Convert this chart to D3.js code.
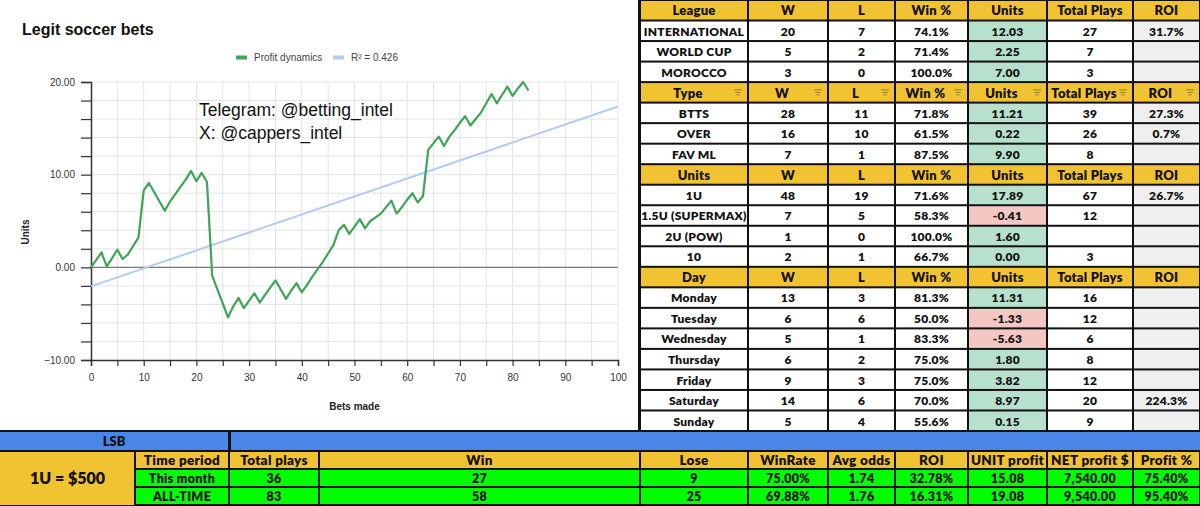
<!DOCTYPE html>
<html>
<head>
<meta charset="utf-8">
<script src="https://cdn.jsdelivr.net/npm/d3@7"></script>
<style>
  body { margin: 0; background: #fff; }
  svg { display: block; }
</style>
</head>
<body>
<div id="board"></div>
<script>
// cumulative profit after each bet (bet 0 .. 83)
const profit = [
  0, 0.8, 1.6, 0.1, 1.0, 1.9, 0.9, 1.4, 2.3, 3.2,
  8.3, 9.1, 8.1, 7.1, 6.1, 7.1, 7.9, 8.7, 9.5, 10.4,
  9.3, 10.2, 9.2, -0.9, -2.4, -3.9, -5.4, -4.2, -3.3, -4.4,
  -3.6, -2.8, -3.8, -3.0, -2.2, -1.4, -2.4, -3.4, -2.5, -1.7,
  -2.7, -1.9, -1.0, -0.2, 0.6, 1.5, 2.4, 4.0, 4.6, 3.6,
  4.4, 5.2, 4.2, 5.0, 5.4, 5.8, 6.5, 7.2, 5.8, 6.5,
  7.3, 8.0, 7.0, 7.7, 12.7, 13.4, 14.1, 13.1, 14.1, 14.8,
  15.6, 16.3, 15.3, 16.0, 16.7, 17.7, 18.7, 17.7, 18.6, 19.5,
  18.5, 19.3, 20.0, 19.08
];
// regression line end points (bets 0 and 100)
const trend = [[0, -2.06], [100, 17.36]];
const legendItems = ["Profit dynamics", "R\u00b2 = 0.426"];

const tableCols = ["W", "L", "Win %", "Units", "Total Plays", "ROI"];
const leagueRows = [
  ["INTERNATIONAL", 20, 7, "74.1%", 12.03, 27, "31.7%"],
  ["WORLD CUP", 5, 2, "71.4%", 2.25, 7, ""],
  ["MOROCCO", 3, 0, "100.0%", 7.00, 3, ""]
];
const typeRows = [
  ["BTTS", 28, 11, "71.8%", 11.21, 39, "27.3%"],
  ["OVER", 16, 10, "61.5%", 0.22, 26, "0.7%"],
  ["FAV ML", 7, 1, "87.5%", 9.90, 8, ""]
];
const unitRows = [
  ["1U", 48, 19, "71.6%", 17.89, 67, "26.7%"],
  ["1.5U (SUPERMAX)", 7, 5, "58.3%", -0.41, 12, ""],
  ["2U (POW)", 1, 0, "100.0%", 1.60, "", ""],
  ["10", 2, 1, "66.7%", 0.00, 3, ""]
];
const dayRows = [
  ["Monday", 13, 3, "81.3%", 11.31, 16, ""],
  ["Tuesday", 6, 6, "50.0%", -1.33, 12, ""],
  ["Wednesday", 5, 1, "83.3%", -5.63, 6, ""],
  ["Thursday", 6, 2, "75.0%", 1.80, 8, ""],
  ["Friday", 9, 3, "75.0%", 3.82, 12, ""],
  ["Saturday", 14, 6, "70.0%", 8.97, 20, "224.3%"],
  ["Sunday", 5, 4, "55.6%", 0.15, 9, ""]
];

const summaryCols = ["Time period", "Total plays", "Win", "Lose", "WinRate", "Avg odds", "ROI", "UNIT profit", "NET profit $", "Profit %"];
const summaryRows = [
  ["This month", 36, 27, 9, "75.00%", "1.74", "32.78%", "15.08", "7,540.00", "75.40%"],
  ["ALL-TIME", 83, 58, 25, "69.88%", "1.76", "16.31%", "19.08", "9,540.00", "95.40%"]
];

const W = 1200, H = 506;
const svg = d3.select("#board").append("svg").attr("width", W).attr("height", H);
const chartFont = "'Liberation Sans', Arial, sans-serif";
const tableFont = "Lato, 'Open Sans', sans-serif";

// ---------- chart ----------
const x = d3.scaleLinear().domain([0, 100]).range([91, 618]);
const y = d3.scaleLinear().domain([-10, 20]).range([360, 82]);

svg.append("text")
  .attr("x", 22).attr("y", 35)
  .attr("font-family", chartFont).attr("font-weight", "bold").attr("font-size", 16)
  .attr("fill", "#111")
  .text("Legit soccer bets");

const grid = svg.append("g").attr("stroke", "#e4e4e4").attr("stroke-width", 1);
grid.selectAll(".gx").data(d3.range(5, 101, 5)).join("line")
  .attr("x1", d => x(d)).attr("x2", d => x(d))
  .attr("y1", y(20)).attr("y2", y(-10));
grid.selectAll(".gy").data(d3.range(-8, 21, 2)).join("line")
  .attr("x1", x(0)).attr("x2", x(100))
  .attr("y1", d => y(d)).attr("y2", d => y(d));

svg.append("line")
  .attr("x1", x(0)).attr("x2", x(100))
  .attr("y1", y(0)).attr("y2", y(0))
  .attr("stroke", "#7a7a7a").attr("stroke-width", 1.4);

const yAxis = d3.axisLeft(y)
  .tickValues(d3.range(-10, 21, 2))
  .tickSize(10).tickPadding(6)
  .tickFormat(d => d % 10 === 0 ? d3.format(".2f")(d) : "");
svg.append("g").attr("transform", `translate(${x(0)},0)`).call(yAxis)
  .call(g => g.select(".domain").attr("stroke", "#333").attr("stroke-width", 1.5))
  .call(g => g.selectAll(".tick line").attr("stroke", "#333").attr("stroke-width", 1.2))
  .call(g => g.selectAll("text").attr("font-family", chartFont).attr("font-size", 10).attr("fill", "#333"));

const xAxis = d3.axisBottom(x)
  .tickValues(d3.range(0, 101, 5))
  .tickSize(6).tickPadding(8)
  .tickFormat(d => d % 10 === 0 ? d : "");
svg.append("g").attr("transform", `translate(0,${y(-10)})`).call(xAxis)
  .call(g => g.select(".domain").attr("stroke", "#333").attr("stroke-width", 1.5))
  .call(g => g.selectAll(".tick line").attr("stroke", "#333").attr("stroke-width", 1.2))
  .call(g => g.selectAll("text").attr("font-family", chartFont).attr("font-size", 10).attr("fill", "#333"));

svg.append("text")
  .attr("transform", "translate(29,232) rotate(-90)")
  .attr("text-anchor", "middle")
  .attr("font-family", chartFont).attr("font-weight", "bold").attr("font-size", 10)
  .attr("fill", "#222").text("Units");
svg.append("text")
  .attr("x", x(50)).attr("y", 410)
  .attr("text-anchor", "middle")
  .attr("font-family", chartFont).attr("font-weight", "bold").attr("font-size", 10)
  .attr("fill", "#222").text("Bets made");

// trend line
svg.append("path")
  .datum(trend)
  .attr("d", d3.line().x(d => x(d[0])).y(d => y(d[1])))
  .attr("fill", "none").attr("stroke", "#b3cbf2").attr("stroke-width", 2);

// profit line
svg.append("path")
  .datum(profit)
  .attr("d", d3.line().x((d, i) => x(i)).y(d => y(d)))
  .attr("fill", "none").attr("stroke", "#3ea558").attr("stroke-width", 2.2)
  .attr("stroke-linejoin", "round");

// legend
const legendColors = ["#3ea558", "#b3cbf2"];
const legendX = [236, 333];
legendItems.forEach((t, i) => {
  svg.append("rect").attr("x", legendX[i]).attr("y", 55.5).attr("width", 11).attr("height", 4)
    .attr("fill", legendColors[i]);
  svg.append("text").attr("x", legendX[i] + 18).attr("y", 61)
    .attr("font-family", chartFont).attr("font-size", 10).attr("fill", "#444").text(t);
});

svg.append("text").attr("x", 199).attr("y", 116)
  .attr("font-family", chartFont).attr("font-size", 17.5).attr("fill", "#111")
  .text("Telegram: @betting_intel");
svg.append("text").attr("x", 199).attr("y", 139)
  .attr("font-family", chartFont).attr("font-size", 17.5).attr("fill", "#111")
  .text("X: @cappers_intel");

// ---------- right table ----------
const colEdges = [640, 748, 828, 895, 968, 1047, 1133, 1200];
const sections = [
  { title: "League", rows: leagueRows, filter: false },
  { title: "Type", rows: typeRows, filter: true },
  { title: "Units", rows: unitRows, filter: false },
  { title: "Day", rows: dayRows, filter: false }
];
const lines = [];
sections.forEach(s => {
  lines.push({ header: true, cells: [s.title, ...tableCols], filter: s.filter });
  s.rows.forEach(r => lines.push({ header: false, cells: r }));
});

const rowY = d3.scaleLinear().domain([0, lines.length]).range([0, 431]);
const rowH = rowY(1) - rowY(0);

const gold = "#f1c232";
const tbl = svg.append("g");
tbl.append("rect").attr("x", 638).attr("y", 0).attr("width", W - 638).attr("height", 432).attr("fill", "#111");

function cellFill(line, ci) {
  if (line.header) return gold;
  if (ci === 4) return line.cells[4] < 0 ? "#f4c7c3" : "#b7e1cd";
  if (ci === 6) return "#efefef";
  return "#fff";
}
function cellText(line, ci) {
  const v = line.cells[ci];
  if (!line.header && ci === 4) return v.toFixed(2);
  return v;
}

lines.forEach((line, ri) => {
  const g = tbl.append("g");
  const y0 = rowY(ri);
  line.cells.forEach((c, ci) => {
    const x0 = colEdges[ci], x1 = colEdges[ci + 1];
    g.append("rect")
      .attr("x", x0 + 1).attr("y", y0 + 1)
      .attr("width", x1 - x0 - 2).attr("height", rowH - 2)
      .attr("fill", cellFill(line, ci));
    const shift = line.filter ? -6 : 0;
    g.append("text")
      .attr("x", (x0 + x1) / 2 + shift).attr("y", y0 + rowH / 2 + 0.5)
      .attr("dy", "0.36em").attr("text-anchor", "middle")
      .attr("font-family", tableFont).attr("font-weight", 800)
      .attr("font-size", line.header ? 13 : 12)
      .attr("letter-spacing", 0.25)
      .attr("fill", "#111")
      .text(cellText(line, ci));
    if (line.filter) {
      const cx = x1 - 10, cy = y0 + rowH / 2;
      [8, 5.5, 3].forEach((w, k) => {
        g.append("line")
          .attr("x1", cx - w / 2).attr("x2", cx + w / 2)
          .attr("y1", cy - 2.5 + k * 2.5).attr("y2", cy - 2.5 + k * 2.5)
          .attr("stroke", "#8c7f3e").attr("stroke-width", 1);
      });
    }
  });
});

// ---------- bottom summary ----------
const sumEdges = [135, 229, 319, 640, 748, 828, 895, 968, 1047, 1133, 1200];
const bandY = [432, 451, 469, 487, 505];
const bot = svg.append("g");
bot.append("rect").attr("x", 0).attr("y", 430).attr("width", W).attr("height", H - 430).attr("fill", "#111");
bot.append("rect").attr("x", 0).attr("y", bandY[0]).attr("width", 228).attr("height", bandY[1] - bandY[0] - 1).attr("fill", "#4a86e8");
bot.append("rect").attr("x", 231).attr("y", bandY[0]).attr("width", W - 231).attr("height", bandY[1] - bandY[0] - 1).attr("fill", "#4a86e8");
bot.append("text").attr("x", 114).attr("y", (bandY[0] + bandY[1]) / 2).attr("dy", "0.36em")
  .attr("text-anchor", "middle").attr("font-family", tableFont).attr("font-weight", 800)
  .attr("font-size", 13).attr("fill", "#111").text("LSB");
bot.append("rect").attr("x", 0).attr("y", bandY[1] + 1).attr("width", sumEdges[0] - 1).attr("height", bandY[4] - bandY[1] - 1).attr("fill", gold);
bot.append("text").attr("x", sumEdges[0] / 2).attr("y", (bandY[1] + bandY[4]) / 2).attr("dy", "0.36em")
  .attr("text-anchor", "middle").attr("font-family", tableFont).attr("font-weight", 800)
  .attr("font-size", 16).attr("fill", "#111").text("1U = $500");

[summaryCols, ...summaryRows].forEach((row, ri) => {
  const y0 = bandY[ri + 1], y1 = bandY[ri + 2];
  row.forEach((c, ci) => {
    const x0 = sumEdges[ci], x1 = sumEdges[ci + 1];
    bot.append("rect").attr("x", x0 + 1).attr("y", y0 + 1)
      .attr("width", x1 - x0 - 2).attr("height", y1 - y0 - 2)
      .attr("fill", ri === 0 ? gold : "#00ff00");
    bot.append("text").attr("x", (x0 + x1) / 2).attr("y", (y0 + y1) / 2 + 0.5).attr("dy", "0.36em")
      .attr("text-anchor", "middle").attr("font-family", tableFont).attr("font-weight", 800)
      .attr("font-size", ri === 0 ? 13.5 : 12.5).attr("letter-spacing", 0.3)
      .attr("fill", "#111").text(c);
  });
});
</script>
</body>
</html>
